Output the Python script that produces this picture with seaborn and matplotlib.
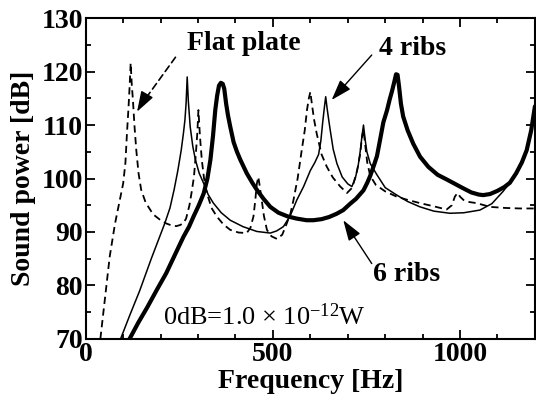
import numpy as np
import pandas as pd
import matplotlib
matplotlib.use("Agg")
import matplotlib.pyplot as plt
import seaborn as sns
from matplotlib.ticker import MultipleLocator

# ---- data ----
flat_x = [39, 52, 64, 78, 91, 100, 106, 110, 114, 117, 120, 123, 126, 130, 135, 141, 148, 160, 180,
          200, 215, 230, 242, 252, 260, 268, 277, 283, 289, 294, 298, 301, 305, 310, 316, 324, 336,
          350, 368, 386, 408, 430, 440, 448, 453, 457, 461, 465, 470, 476, 484, 496, 511, 525, 537,
          547, 555, 566, 577, 585, 591, 596, 600, 604, 610, 617, 630, 644, 660, 680, 698, 712, 725,
          733, 738, 742, 747, 752, 760, 775, 800, 831, 860, 893, 930, 964, 978, 986, 993, 1000,
          1009, 1025, 1044, 1080, 1120, 1160, 1200]
flat_y = [70, 78, 85.4, 91.5, 96, 99.1, 103, 108.4, 113, 117, 121.6, 117.5, 114.7, 110, 105.3, 101,
          97.9, 95.5, 93.3, 92.2, 91.6, 91.2, 91.1, 91.3, 91.6, 92.5, 95, 97.5, 100.3, 104.5, 108.5,
          112.8, 108, 103.5, 100, 97.2, 94.5, 92.9, 91.4, 90.4, 89.9, 89.8, 90.8, 92.9, 96, 99,
          100.3, 98.5, 96, 93, 90.4, 89.2, 88.7, 89.5, 91.6, 93.5, 96, 100, 105.3, 109, 112.8, 115,
          116.2, 114, 111, 108.4, 104.5, 102.2, 100.2, 98.5, 97.3, 98.3, 101.5, 104.5, 107.8, 109.1,
          106, 103, 100.5, 98.8, 97.6, 96.6, 96, 95.4, 94.8, 94.2, 95, 96.6, 97.3, 96.6, 96, 95.6,
          95.4, 94.7, 94.5, 94.4, 94.4]

ribs4_x = [93, 118, 144, 175, 211, 225, 236, 246, 255, 261, 265, 268, 271, 274, 279, 286, 293, 303,
           315, 327, 341, 362, 386, 420, 457, 493, 510, 528, 546, 564, 582, 600, 612, 622, 628, 633,
           637, 641, 645, 649, 653, 661, 671, 685, 700, 711, 720, 728, 734, 738, 742, 746, 751, 760,
           777, 800, 831, 860, 893, 930, 973, 1010, 1053, 1085, 1115, 1133, 1150, 1165, 1178, 1190,
           1200]
ribs4_y = [70, 74.5, 79, 85, 91.6, 94.5, 97.9, 101.5, 105.3, 108.5, 111, 114, 119, 114.5, 109.7, 106,
           103.5, 101, 99.1, 97, 95.4, 93.6, 92.2, 91, 90.1, 89.8, 90.2, 91, 93, 96, 98.5, 101.5,
           103, 104.5, 107, 110.5, 113, 115.3, 113, 111, 109.1, 105.5, 102.8, 100.3, 99, 98.5, 100,
           102.5, 105.5, 108, 110, 107.5, 105, 102.8, 100.8, 98.3, 96.9, 95.7, 94.7, 93.9, 93.5,
           93.6, 94.1, 95.3, 97.6, 99.2, 101.2, 103.2, 105.3, 108.5, 112.5]

ribs6_x = [117, 140, 165, 190, 215, 240, 261, 276, 288, 302, 315, 325, 333, 340, 346, 351, 356, 361,
           366, 370, 375, 380, 386, 395, 404, 413, 430, 445, 457, 475, 493, 515, 540, 564, 590, 608,
           630, 650, 670, 688, 705, 722, 742, 752, 760, 770, 778, 787, 795, 805, 812, 818, 824, 829,
           833, 837, 842, 848, 860, 875, 893, 915, 940, 965, 981, 1005, 1030, 1050, 1062, 1080,
           1100, 1118, 1133, 1150, 1165, 1178, 1190, 1200]
ribs6_y = [70, 73, 76, 79.2, 82.3, 86, 89.1, 91, 92.9, 95, 97.2, 100, 103.5, 108, 112.8, 115.5, 117.4,
           117.9, 117.7, 116.8, 114, 111.8, 109.7, 106.8, 105, 103.5, 101, 99.2, 97.9, 96.2, 94.7,
           93.6, 92.9, 92.5, 92.2, 92.2, 92.4, 92.8, 93.4, 94.1, 95.2, 96.2, 97.8, 99.2, 100.5,
           102.5, 104.2, 107.5, 110.5, 112.8, 114.8, 116.3, 118, 119.5, 119.4, 117.2, 114, 111.6,
           109, 106.5, 104.1, 102.2, 100.7, 99.8, 99.2, 98.3, 97.4, 97, 96.9, 97.1, 97.7, 98.4,
           99.2, 101, 103, 105.3, 109, 113.5]

x_ticks = [0, 500, 1000]
y_ticks = [70, 80, 90, 100, 110, 120, 130]

sns.set_theme(style="ticks", rc={'text.color': 'black', 'axes.labelcolor': 'black',
                                 'xtick.color': 'black', 'ytick.color': 'black',
                                 'axes.edgecolor': 'black'})
plt.rcParams['font.family'] = ['Liberation Serif', 'DejaVu Serif']
plt.rcParams['mathtext.fontset'] = 'custom'
plt.rcParams['mathtext.rm'] = 'Liberation Serif'
plt.rcParams['mathtext.it'] = 'Liberation Serif:italic'
plt.rcParams['mathtext.bf'] = 'Liberation Serif:bold'

fig = plt.figure(figsize=(5.36, 4.03), dpi=100)
ax = fig.add_axes([0.160, 0.159, 0.838, 0.796])

sns.lineplot(x=flat_x, y=flat_y, ax=ax, color='black', linewidth=1.3, linestyle=(0, (4, 2.5)),
             estimator=None, sort=False)
sns.lineplot(x=ribs4_x, y=ribs4_y, ax=ax, color='black', linewidth=1.1,
             estimator=None, sort=False)
sns.lineplot(x=ribs6_x, y=ribs6_y, ax=ax, color='black', linewidth=3.0,
             estimator=None, sort=False)

ax.set_xlim(0, 1200)
ax.set_ylim(70, 130)
ax.set_xticks(x_ticks)
ax.set_yticks(y_ticks)
ax.xaxis.set_minor_locator(MultipleLocator(100))
ax.yaxis.set_minor_locator(MultipleLocator(5))
ax.tick_params(which='both', direction='in', top=True, right=True, width=1.3, color='black')
ax.tick_params(which='major', length=6.5, pad=2, labelsize=20, labelcolor='black')
ax.tick_params(which='minor', length=3.5)
for lab in ax.get_xticklabels() + ax.get_yticklabels():
    lab.set_fontweight('bold')
for sp in ax.spines.values():
    sp.set_linewidth(1.5)
    sp.set_color('black')

ax.set_xlabel('Frequency [Hz]', fontsize=20, fontweight='bold', labelpad=2, color='black')
ax.set_ylabel('Sound power [dB]', fontsize=20, fontweight='bold', labelpad=4, color='black')

# annotations
ax.text(421, 125.3, 'Flat plate', fontsize=20, fontweight='bold', ha='center', va='center',
        color='black')
ax.annotate('', xy=(150, 114.0), xytext=(244, 123.1),
            arrowprops=dict(arrowstyle='-', color='black', lw=1.2, linestyle=(0, (4, 2.5))))
ax.annotate('', xy=(137, 112.5), xytext=(160, 115.3),
            arrowprops=dict(arrowstyle='-|>,head_length=0.9,head_width=0.3', color='black', lw=1.0,
                            mutation_scale=14, shrinkA=0, shrinkB=0))

ax.text(872, 124.4, '4 ribs', fontsize=20, fontweight='bold', ha='center', va='center',
        color='black')
ax.annotate('', xy=(657, 114.7), xytext=(764, 123.1),
            arrowprops=dict(arrowstyle='-|>,head_length=0.9,head_width=0.3', color='black', lw=1.0,
                            mutation_scale=14, shrinkA=0, shrinkB=0))

ax.text(856, 82.0, '6 ribs', fontsize=20, fontweight='bold', ha='center', va='center',
        color='black')
ax.annotate('', xy=(688, 92.2), xytext=(764, 84.1),
            arrowprops=dict(arrowstyle='-|>,head_length=0.9,head_width=0.3', color='black', lw=1.0,
                            mutation_scale=14, shrinkA=0, shrinkB=0))

ax.text(207, 72.6, '0dB=1.0 \u00d7 10$^{\\mathregular{-12}}$W', fontsize=19, ha='left',
        va='baseline', color='black')

fig.savefig('out.png', dpi=100)
